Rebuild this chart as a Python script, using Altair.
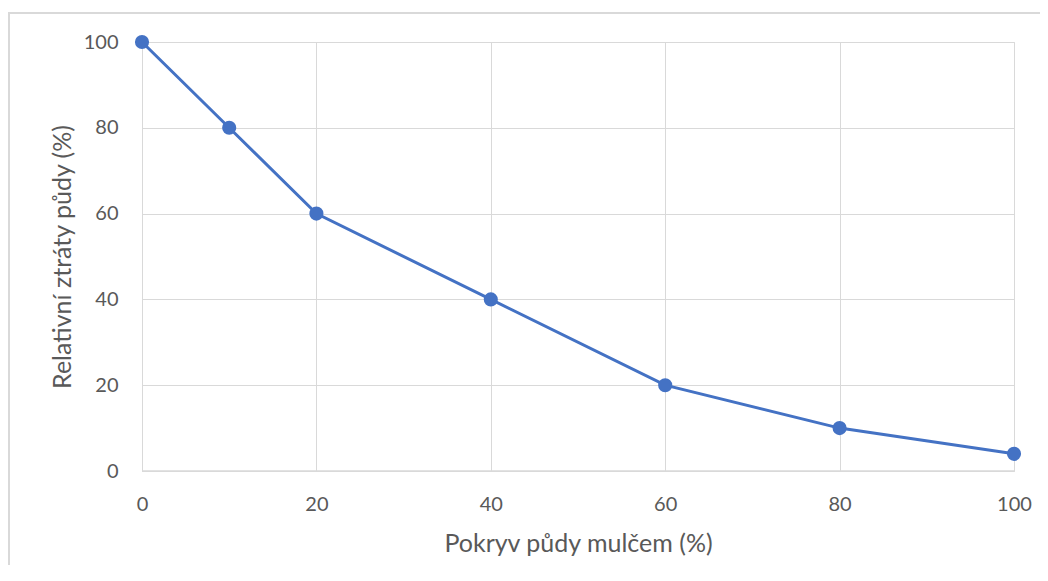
import altair as alt
import pandas as pd

cover = [0, 10, 20, 40, 60, 80, 100]
loss = [100, 80, 60, 40, 20, 10, 4]
x_ticks = [0, 20, 40, 60, 80, 100]
y_ticks = [0, 20, 40, 60, 80, 100]

df = pd.DataFrame({"cover": cover, "loss": loss})

FONT = "Lato"
GRAY = "#595959"
GRID = "#d9d9d9"
BLUE = "#4472C4"

W, H = 872, 429

x_enc = alt.X(
    "cover:Q",
    scale=alt.Scale(domain=[0, 100], nice=False),
    axis=alt.Axis(
        values=x_ticks, title="Pokryv půdy mulčem (%)", grid=True, gridColor=GRID,
        domain=False, ticks=False, labelPadding=23, titlePadding=17,
        labelFlush=False, labelOverlap=False,
        labelFontSize=20, titleFontSize=25, labelColor=GRAY, titleColor=GRAY,
        labelFont=FONT, titleFont=FONT, titleFontWeight="normal",
    ),
)
y_enc = alt.Y(
    "loss:Q",
    scale=alt.Scale(domain=[0, 100], nice=False),
    axis=alt.Axis(
        values=y_ticks, title="Relativní ztráty půdy (%)", grid=True, gridColor=GRID,
        domain=True, domainColor=GRID, ticks=False, labelPadding=24, titlePadding=8,
        labelFlush=False, labelOverlap=False,
        labelFontSize=20, titleFontSize=25, labelColor=GRAY, titleColor=GRAY,
        labelFont=FONT, titleFont=FONT, titleFontWeight="normal",
    ),
)

border = alt.Chart(pd.DataFrame({"a": [0]})).mark_rect(
    fill=None, stroke=GRID, strokeWidth=2
).encode(
    x=alt.value(-133), x2=alt.value(W + 60),
    y=alt.value(-29), y2=alt.value(H + 150),
)

xaxis_line = alt.Chart(pd.DataFrame({"a": [0]})).mark_rule(color=GRID, strokeWidth=1.5).encode(
    y=alt.value(H), x=alt.value(0), x2=alt.value(W)
)

line = alt.Chart(df).mark_line(color=BLUE, strokeWidth=3).encode(x=x_enc, y=y_enc)
pts = alt.Chart(df).mark_point(filled=True, color=BLUE, size=200, opacity=1).encode(x=x_enc, y=y_enc)

chart = alt.layer(border, xaxis_line, line, pts).properties(
    width=W, height=H,
    padding={"left": 134, "top": 34, "right": 26, "bottom": 94},
    autosize=alt.AutoSizeParams(type="none"),
).configure_view(stroke=None).configure(background="white")

chart.save("out.html", embed_options={"renderer": "svg", "actions": False})
